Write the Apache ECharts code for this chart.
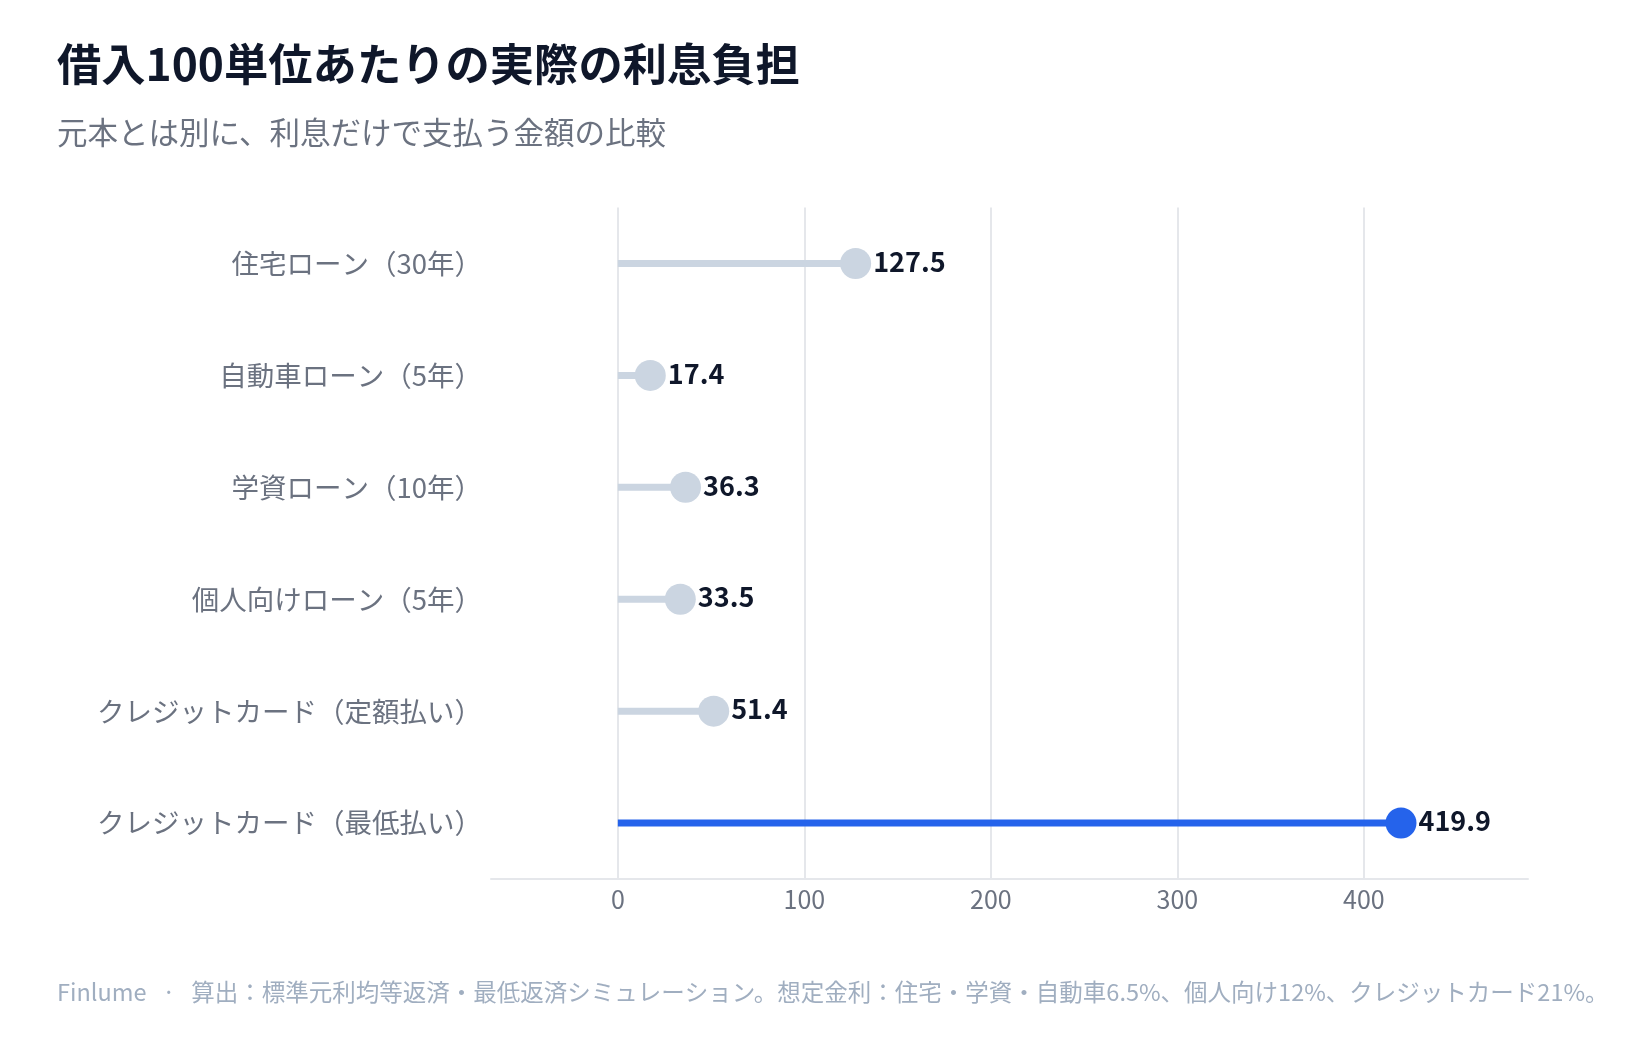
<!DOCTYPE html>
<html lang="ja">
<head>
<meta charset="utf-8">
<title>借入100単位あたりの実際の利息負担</title>
<script src="https://cdn.jsdelivr.net/npm/echarts@6/dist/echarts.min.js"></script>
<style>
  html, body { margin: 0; padding: 0; background: #fff; }
  #chart { width: 1639px; height: 1040px; }
</style>
</head>
<body>
<div id="chart"></div>
<script>
// data
const categories = [
  '住宅ローン（30年）',
  '自動車ローン（5年）',
  '学資ローン（10年）',
  '個人向けローン（5年）',
  'クレジットカード（定額払い）',
  'クレジットカード（最低払い）'
]
const interestPer100 = [127.5, 17.4, 36.3, 33.5, 51.4, 419.9]
const highlighted = [false, false, false, false, false, true]
const xTicks = [0, 100, 200, 300, 400]

const FONT = '"Noto Sans CJK JP", "Noto Sans", sans-serif'
const GREY = '#CBD5E1'
const BLUE = '#2563EB'

const chart = echarts.init(document.getElementById('chart'))

chart.setOption({
  backgroundColor: '#fff',
  animation: false,
  title: [
    {
      text: '借入100単位あたりの実際の利息負担',
      left: 52,
      top: 37,
      textStyle: { fontFamily: FONT, fontSize: 44.3, fontWeight: 'bold', color: '#0F172A' }
    },
    {
      text: '元本とは別に、利息だけで支払う金額の比較',
      left: 52,
      top: 112,
      textStyle: { fontFamily: FONT, fontSize: 30.5, fontWeight: 'normal', color: '#6B7280' }
    },
    {
      text: 'Finlume   ·   算出：標準元利均等返済・最低返済シミュレーション。想定金利：住宅・学資・自動車6.5%、個人向け12%、クレジットカード21%。',
      left: 52,
      top: 975,
      textStyle: { fontFamily: FONT, fontSize: 23.5, fontWeight: 'normal', color: '#A0AEC0' }
    }
  ],
  grid: { left: 491, right: 111, top: 207.5, bottom: 161, containLabel: false },
  xAxis: {
    type: 'value',
    min: -68,
    max: 488,
    axisLine: { show: true, lineStyle: { color: '#E5E7EB', width: 2 } },
    axisTick: { show: false, customValues: xTicks },
    axisLabel: {
      customValues: xTicks,
      fontFamily: FONT,
      fontSize: 25,
      color: '#6B7280',
      margin: 8
    },
    splitLine: { show: true, lineStyle: { color: '#E5E7EB', width: 2 } }
  },
  yAxis: {
    type: 'category',
    inverse: true,
    data: categories,
    axisLine: { show: false },
    axisTick: { show: false },
    axisLabel: { fontFamily: FONT, fontSize: 27.5, color: '#6B7280', margin: 9 }
  },
  series: [
    {
      type: 'bar',
      barWidth: 7,
      silent: true,
      data: interestPer100.map((v, i) => ({
        value: v,
        itemStyle: { color: highlighted[i] ? BLUE : GREY }
      }))
    },
    {
      type: 'scatter',
      symbol: 'circle',
      symbolSize: 31,
      z: 3,
      itemStyle: { opacity: 1 },
      data: interestPer100.map((v, i) => ({
        value: [v, i],
        itemStyle: { color: highlighted[i] ? BLUE : GREY, opacity: 1 }
      })),
      label: {
        show: true,
        position: 'right',
        distance: 2,
        offset: [0, -2],
        formatter: p => p.value[0].toFixed(1),
        fontFamily: FONT,
        fontSize: 27,
        fontWeight: 'bold',
        color: '#0F172A'
      }
    }
  ]
})

window.addEventListener('resize', () => chart.resize())
</script>
</body>
</html>
